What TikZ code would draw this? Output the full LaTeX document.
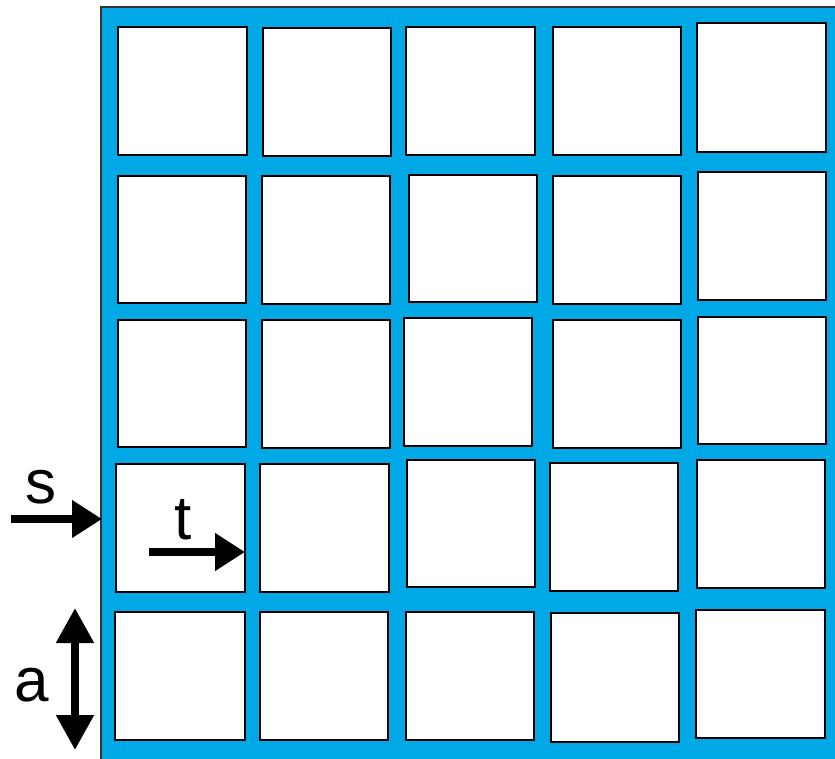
\documentclass[tikz,border=0pt]{standalone}
\usepackage{fontspec}
\setmainfont{Liberation Sans}
\usetikzlibrary{arrows.meta}
\definecolor{gridblue}{RGB}{0,168,230}
\tikzset{
  cell/.style={draw=black, fill=white, line width=1.8pt},
  bigarrow/.style={line width=8pt, -{Triangle[length=30pt,width=36pt]}},
  dblarrow/.style={line width=8pt, {Triangle[length=35pt,width=36pt]}-{Triangle[length=35pt,width=36pt]}},
  lbl/.style={inner sep=0pt, font=\fontsize{62}{62}\selectfont}
}
\begin{document}
\begin{tikzpicture}[x=1pt,y=-1pt]
\useasboundingbox (0,0) rectangle (835,758);
% blue plate
\fill[gridblue] (101,7) rectangle (840,765);
\draw[line width=1.2pt, black!80] (101,765) -- (101,7) -- (840,7);
% cells
\foreach \a/\b/\c/\d in {
  118/27/247/155, 263/28/391/156, 406/27/535/155, 553/27/681/155, 697/23/826/152,
  118/176/246/303, 262/176/390/304, 409/175/537/302, 553/176/681/304, 698/172/826/300,
  118/320/246/447, 262/320/390/448, 404/318/532/446, 553/320/681/448, 698/317/826/444,
  116/464/245/592, 260/464/389/592, 407/460/535/587, 550/463/678/591, 697/460/825/588,
  115/612/245/740, 260/612/388/740, 406/612/534/740, 551/613/679/742, 696/610/825/738}
  \draw[cell] (\a,\b) rectangle (\c,\d);
% arrows
\coordinate (s0) at (11,519);
\coordinate (s1) at (102,519);
\coordinate (t0) at (149,552);
\coordinate (t1) at (245,552);
\coordinate (a0) at (75,608);
\coordinate (a1) at (75,750);
\draw[bigarrow] (s0) -- (s1);
\draw[bigarrow] (t0) -- (t1);
\draw[dblarrow] (a0) -- (a1);
% labels
\node[lbl] (ls) at (41,487) {s};
\node[lbl] (lt) at (183,520) {t};
\node[lbl] (la) at (32,685) {a};
\end{tikzpicture}
\end{document}
